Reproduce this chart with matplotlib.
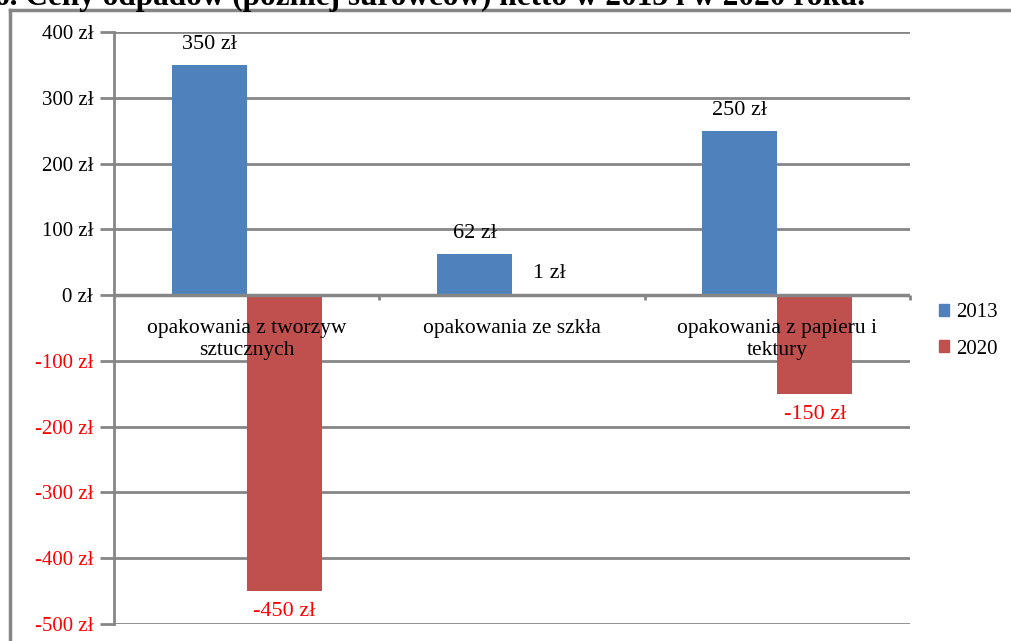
import matplotlib
matplotlib.use("Agg")
import matplotlib.pyplot as plt
from matplotlib.lines import Line2D
from matplotlib.patches import Patch
import numpy as np

kategorie = ['opakowania z tworzyw\nsztucznych', 'opakowania ze szkła',
             'opakowania z papieru i\ntektury']
ceny_2013 = [350, 62, 250]
ceny_2020 = [-450, 1, -150]
yticks = [400, 300, 200, 100, 0, -100, -200, -300, -400, -500]
serie = ['2013', '2020']

NIEBIESKI = '#4F81BD'
CZERWONY = '#C0504D'
SZARY = '#868686'
TEKST_CZ = '#FF0000'

plt.rcParams['font.family'] = ['Liberation Serif', 'DejaVu Serif']
W, H = 1011, 641
fig = plt.figure(figsize=(W / 100, H / 100), dpi=100)

# ramka wykresu (ucieta z prawej i z dolu)
fig.add_artist(Line2D([10 / W, 10 / W], [0, 1 - 10 / H], color=SZARY, lw=2.5,
                      transform=fig.transFigure))
fig.add_artist(Line2D([10 / W, 1.0], [1 - 10 / H, 1 - 10 / H], color=SZARY, lw=2.5,
                      transform=fig.transFigure))

# tytul uciety u gory (jak w oryginale)
fig.text(-0.006, 1 - 5 / H, '6. Ceny odpadów (później surowców) netto w 2013 i w 2020 roku.',
         fontsize=22.5, fontweight='bold', va='baseline', ha='left')

ax = fig.add_axes([114 / W, 1 - 624 / H, (910 - 114) / W, (624 - 32) / H])
x = np.arange(len(kategorie))
w = 0.283
ax.bar(x - w / 2, ceny_2013, w, color=NIEBIESKI, zorder=3)
ax.bar(x + w / 2, ceny_2020, w, color=CZERWONY, zorder=3)

ax.set_xlim(-0.5, 2.5)
ax.set_ylim(-500, 400)
ax.set_yticks(yticks)
ax.set_yticklabels([f'{v} zł' for v in yticks], fontsize=15)
for lab, v in zip(ax.get_yticklabels(), yticks):
    lab.set_color(TEKST_CZ if v < 0 else 'black')
ax.tick_params(axis='y', direction='out', length=10, width=2, color=SZARY, pad=5)
ax.set_xticks([])
ax.grid(axis='y', color=SZARY, lw=2, zorder=1)
for s in ['top', 'right', 'bottom']:
    ax.spines[s].set_visible(False)
ax.spines['left'].set_color(SZARY)
ax.spines['left'].set_linewidth(2)
ax.axhline(0, color=SZARY, lw=2.5, zorder=3.5)
ax.vlines([0.5, 1.5, 2.5], -8, 0, color=SZARY, lw=2, zorder=2, clip_on=False)

# etykiety kategorii
for i, k in enumerate(kategorie):
    ax.text(i, -36, k, ha='center', va='top', fontsize=15.5, linespacing=1.2, zorder=4)

# etykiety danych
for xi, v in zip(x - w / 2, ceny_2013):
    ax.annotate(f'{v} zł', (xi, v), xytext=(0, 11 if v >= 0 else -11),
                textcoords='offset pixels', ha='center',
                va='bottom' if v >= 0 else 'top', fontsize=16,
                color='black' if v >= 0 else TEKST_CZ)
for xi, v in zip(x + w / 2, ceny_2020):
    ax.annotate(f'{v} zł', (xi, v), xytext=(0, 11 if v >= 0 else -11),
                textcoords='offset pixels', ha='center',
                va='bottom' if v >= 0 else 'top', fontsize=16,
                color='black' if v >= 0 else TEKST_CZ)

uchwyty = [Patch(color=NIEBIESKI), Patch(color=CZERWONY)]
fig.legend(uchwyty, serie, loc='upper left', bbox_to_anchor=(939 / W, 1 - 303 / H),
           frameon=False, fontsize=15, handlelength=0.5, handleheight=0.5,
           handletextpad=0.3, labelspacing=0.85, borderpad=0, borderaxespad=0)

fig.savefig('out.png', dpi=100)
